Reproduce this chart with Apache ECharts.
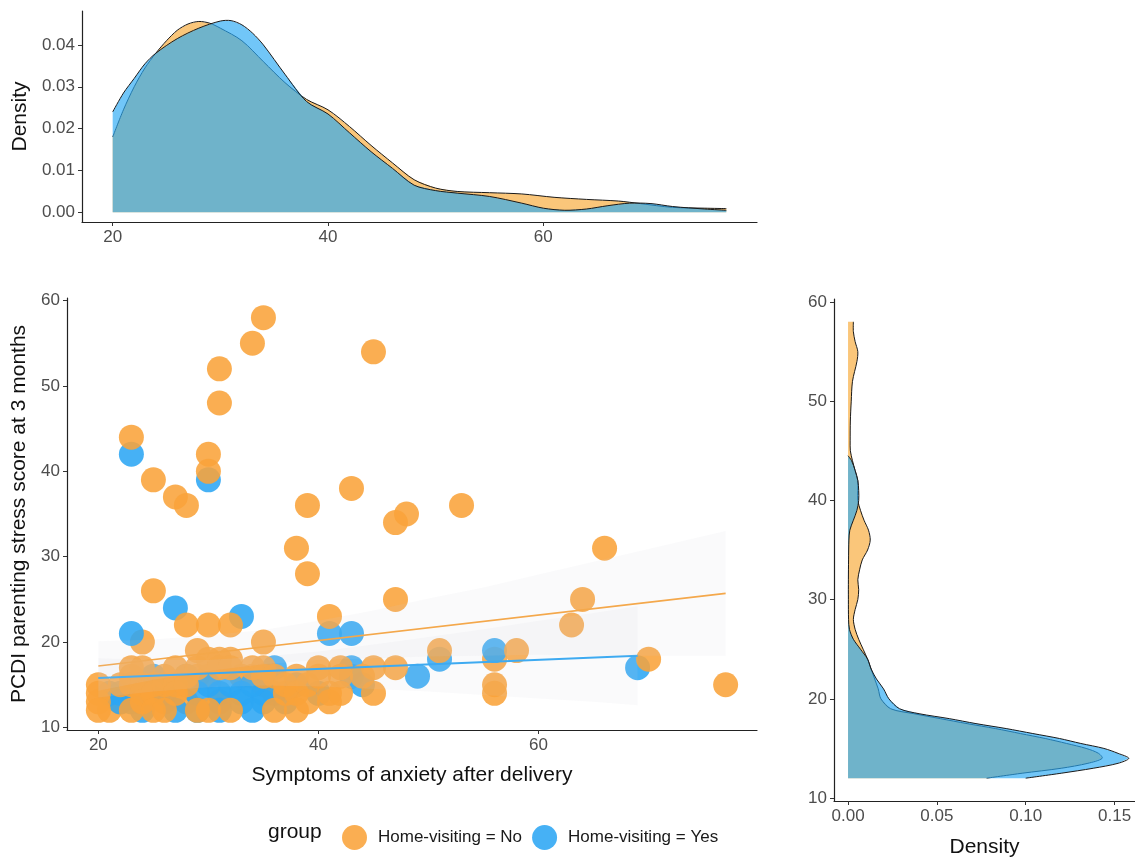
<!DOCTYPE html>
<html>
<head>
<meta charset="utf-8">
<script src="https://cdn.jsdelivr.net/npm/echarts@6/dist/echarts.min.js"></script>
<style>html,body{margin:0;padding:0;background:#fff}#c{width:1135px;height:859px}</style>
</head>
<body>
<div id="c"></div>
<script>
// ---------- DATA ----------
const groupNames = ['Home-visiting = No', 'Home-visiting = Yes'];
const anxietyTicks = [20, 40, 60];
const stressTicks = [10, 20, 30, 40, 50, 60];
const topDensityTicks = [0, 0.01, 0.02, 0.03, 0.04];
const rightDensityTicks = [0, 0.05, 0.10, 0.15];

// scatter points, Home-visiting = No (drawn above the blue points)
const noX = [35,34,31,31,45,23,25,27,28,30,30,39,43,48,47,53,38,39,25,47,66,64,63,41,28,30,32,29,35,51,58,70,47,56,56,77,45,45,
             40,42,41,41,37,36,20,20,20,20,22,23,23,23,23,24,24,24,24,25,25,25,26,26,27,27,27,28,28,29,29,30,30,31,31,32,32,32,34,35,35,36,37,38,38,39,39,40,42,42,44,38,26];
const noY = [58,55,52,48,54,44,39,37,36,42,40,36,38,35,34,36,31,28,26,25,31,25,22,23,22,22,22,19,20,19,19,18,17,15,14,15,14,17,
             17,16,13,14,14,12,15,14,13,12,15,17,16,15,12,17,15,14,13,15,14,12,16,15,17,15,14,16,15,17,12,18,12,18,17,18,17,12,17,17,16,16,15,16,14,15,13,16,17,14,16,12,12];
// Home-visiting = No points lying underneath blue points
const noUnderX = [24,56,31,33,28,26,30,22,21,36,34,35,29];
const noUnderY = [20,18,13,16,13,13,16,13,12,14,16,15,16];
// Home-visiting = Yes
const yesX = [23,30,27,33,23,41,43,56,51,69,49,43,43,36,21,22,22,23,24,25,26,27,28,29,29,30,31,32,33,33,34,35,35,37,38,40,44,31,34];
const yesY = [42,39,24,23,21,21,21,19,18,17,16,17,16,17,14,14,13,13,12,16,14,12,16,14,12,15,14,15,14,13,12,14,13,13,15,14,15,12,15];

// regression lines (read endpoints)
const noFitX = [20, 77];
const noFitY = [17.2, 25.7];
const yesFitX = [20, 69];
const yesFitY = [15.8, 18.4];
// confidence bands
const noBandX = [20, 25, 30, 35, 40, 45, 50, 55, 60, 65, 70, 77];
const noBandLow = [14.3, 15.6, 16.6, 17.4, 17.9, 18.1, 18.3, 18.4, 18.5, 18.4, 18.4, 18.4];
const noBandHigh = [20.1, 20.3, 20.8, 21.4, 22.5, 23.7, 25.1, 26.4, 27.9, 29.4, 30.9, 33.0];
const yesBandX = [20, 25, 30, 35, 40, 45, 50, 55, 60, 65, 69];
const yesBandLow = [13.5, 14.2, 14.7, 14.9, 14.8, 14.5, 14.2, 13.8, 13.4, 13.0, 12.6];
const yesBandHigh = [18.1, 17.9, 17.9, 18.3, 18.9, 19.7, 20.6, 21.5, 22.5, 23.4, 24.2];

// marginal density of anxiety (top)
const noTopX = [20,21,22,23,24,25,26,27,28,29,30,32,34,36,38,40,42,44,46,48,50,52,55,58,61,64,67,69,72,75,77];
const noTopY = [0.018,0.0245,0.030,0.0345,0.038,0.041,0.0435,0.045,0.0456,0.0452,0.044,0.041,0.036,0.031,0.027,0.0245,0.0205,0.016,0.0118,0.0078,0.0058,0.005,0.0047,0.0044,0.0036,0.0031,0.0027,0.0021,0.0012,0.001,0.0009];
const yesTopX = [20,21,22,23,24,26,28,30,31,32,33,34,36,38,40,42,44,46,48,50,52,55,58,60,62,64,66,68,70,72,75,77];
const yesTopY = [0.024,0.0285,0.032,0.0355,0.038,0.0415,0.044,0.0457,0.0458,0.0448,0.0428,0.040,0.033,0.0265,0.0235,0.019,0.0145,0.0105,0.0065,0.0052,0.0046,0.0038,0.0022,0.001,0.0005,0.0008,0.0016,0.0022,0.0021,0.0014,0.0008,0.0005];

// marginal density of stress (right)
const noRightY = [12,12.5,13,13.5,14,14.5,15,15.5,16,16.5,17,17.5,18,18.5,19,20,21,22,23,24,25,26,27,28,29,30,31,32,33,34,35,36,37,38,39,40,41,42,43,44,45,46,48,50,52,54,55,56,57,58];
const noRightD = [0.078,0.098,0.120,0.135,0.143,0.141,0.134,0.123,0.111,0.097,0.083,0.067,0.052,0.037,0.024,0.0185,0.017,0.015,0.013,0.011,0.0085,0.006,0.004,0.003,0.004,0.0055,0.006,0.0055,0.0065,0.008,0.011,0.0125,0.0115,0.009,0.007,0.0055,0.0055,0.0055,0.004,0.0025,0.0013,0.0012,0.0013,0.0018,0.0025,0.005,0.0055,0.004,0.003,0.003];
const yesRightY = [12,12.5,13,13.5,14,14.5,15,15.5,16,16.5,17,17.5,18,18.5,19,20,21,22,23,24,25,26,27,28,30,32,34,36,37,38,39,40,41,42,43,44,44.5];
const yesRightD = [0.100,0.120,0.138,0.152,0.158,0.152,0.144,0.131,0.119,0.104,0.089,0.072,0.057,0.040,0.029,0.023,0.020,0.016,0.013,0.011,0.007,0.003,0.0008,0.0003,0.0002,0.0002,0.0003,0.0005,0.001,0.003,0.005,0.006,0.006,0.0055,0.004,0.002,0];

// ---------- STYLE ----------
const ORANGE = '#F9A33A', BLUE = '#2CA6F4';
const ORANGE_FILL = 'rgba(247,168,50,0.65)', BLUE_FILL = 'rgba(40,168,245,0.66)';
const BAND_FILL = 'rgba(205,205,222,0.11)';
const FONT = '"Liberation Sans", Arial, sans-serif';
const TICK_COLOR = '#4D4D4D';
const zip = (a, b) => a.map((v, i) => [v, b[i]]);

function shapeSeries(xi, yi, poly, outline, fill, z) {
  return {
    type: 'custom', xAxisIndex: xi, yAxisIndex: yi, silent: true, z: z, clip: false,
    data: [poly[0]],
    renderItem: function (params, api) {
      const children = [{
        type: 'polygon',
        shape: { points: poly.map(p => api.coord(p)) },
        style: { fill: fill, stroke: null }
      }];
      if (outline) {
        children.push({
          type: 'polyline',
          shape: { points: outline.map(p => api.coord(p)), smooth: 0.3 },
          style: { fill: null, stroke: '#1a1a1a', lineWidth: 1 }
        });
      }
      return { type: 'group', children: children };
    }
  };
}
function topArea(xs, ys, fill, z) {
  const curve = zip(xs, ys);
  const poly = [[xs[0], 0]].concat(curve, [[xs[xs.length - 1], 0]]);
  return shapeSeries(0, 0, poly, curve, fill, z);
}
function rightArea(ys, ds, fill, z) {
  const curve = zip(ds, ys);
  const poly = [[0, ys[0]]].concat(curve, [[0, ys[ys.length - 1]]]);
  return shapeSeries(2, 2, poly, curve, fill, z);
}
function band(xs, lo, hi, z) {
  const poly = zip(xs, hi).concat(zip(xs, lo).reverse());
  return shapeSeries(1, 1, poly, null, BAND_FILL, z);
}

function valueAxis(grid, min, max, ticks, fmt, extra) {
  return Object.assign({
    type: 'value', gridIndex: grid, min: min, max: max,
    axisLine: { show: true, onZero: false, lineStyle: { color: '#222', width: 1.2 } },
    axisTick: { show: true, length: 4, customValues: ticks, lineStyle: { color: '#333', width: 1 } },
    axisLabel: { customValues: ticks, color: TICK_COLOR, fontSize: 17, fontFamily: FONT, margin: 7,
                 formatter: fmt || (v => String(v)) },
    splitLine: { show: false },
    nameTextStyle: { color: '#111', fontSize: 21, fontFamily: FONT }
  }, extra || {});
}

const scatterCommon = { type: 'scatter', xAxisIndex: 1, yAxisIndex: 1, symbol: 'circle', symbolSize: 25, silent: true };

const option = {
  animation: false,
  backgroundColor: '#fff',
  grid: [
    { left: 82, top: 11, width: 675, height: 211, containLabel: false, outerBoundsMode: 'none' },
    { left: 67, top: 298, width: 690, height: 432, containLabel: false, outerBoundsMode: 'none' },
    { left: 834, top: 299, width: 301, height: 502, containLabel: false, outerBoundsMode: 'none' }
  ],
  xAxis: [
    valueAxis(0, 17.15, 79.85, anxietyTicks),
    valueAxis(1, 17.15, 79.85, anxietyTicks, null, { name: 'Symptoms of anxiety after delivery', nameLocation: 'middle', nameGap: 35 }),
    valueAxis(2, -0.0079, 0.1615, rightDensityTicks, v => v.toFixed(2), { name: 'Density', nameLocation: 'middle', nameGap: 36 })
  ],
  yAxis: [
    valueAxis(0, -0.0023, 0.0481, topDensityTicks, v => v.toFixed(2), { name: 'Density', nameLocation: 'middle', nameRotate: 90, nameGap: 47 }),
    valueAxis(1, 9.7, 60.3, stressTicks, null, { name: 'PCDI parenting stress score at 3 months', nameLocation: 'middle', nameRotate: 90, nameGap: 36 }),
    valueAxis(2, 9.7, 60.3, stressTicks)
  ],
  legend: {
    data: groupNames, left: 337, top: 820, icon: 'circle', itemWidth: 25, itemHeight: 25, itemGap: 10,
    selectedMode: false,
    textStyle: { fontSize: 17, color: '#1a1a1a', fontFamily: FONT, padding: [0, 0, 0, 6] }
  },
  graphic: [{
    type: 'text', left: 268, top: 822,
    style: { text: 'group', fontSize: 21, fontFamily: FONT, fill: '#111' }
  }],
  series: [
    topArea(noTopX, noTopY, ORANGE_FILL, 2),
    topArea(yesTopX, yesTopY, BLUE_FILL, 3),
    rightArea(noRightY, noRightD, ORANGE_FILL, 2),
    rightArea(yesRightY, yesRightD, BLUE_FILL, 3),
    Object.assign({}, scatterCommon, { name: groupNames[0], z: 2, data: zip(noUnderX, noUnderY), itemStyle: { color: ORANGE, opacity: 0.88 } }),
    Object.assign({}, scatterCommon, { name: groupNames[1], z: 3, data: zip(yesX, yesY), itemStyle: { color: BLUE, opacity: 0.88 } }),
    Object.assign({}, scatterCommon, { name: groupNames[0], z: 4, data: zip(noX, noY), itemStyle: { color: ORANGE, opacity: 0.88 } }),
    { type: 'line', xAxisIndex: 1, yAxisIndex: 1, z: 5, silent: true, showSymbol: false, data: zip(noFitX, noFitY), lineStyle: { color: ORANGE, width: 1.6 } },
    { type: 'line', xAxisIndex: 1, yAxisIndex: 1, z: 5, silent: true, showSymbol: false, data: zip(yesFitX, yesFitY), lineStyle: { color: BLUE, width: 2 } },
    band(noBandX, noBandLow, noBandHigh, 6),
    band(yesBandX, yesBandLow, yesBandHigh, 6)
  ]
};
echarts.init(document.getElementById('c'), null, { renderer: 'canvas' }).setOption(option);
</script>
</body>
</html>
